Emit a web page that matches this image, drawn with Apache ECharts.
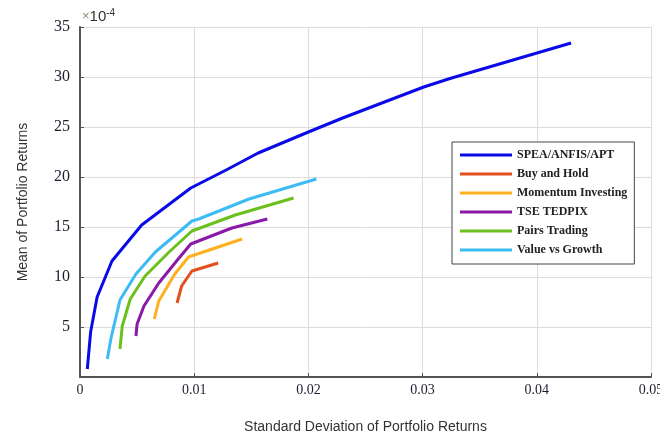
<!DOCTYPE html>
<html>
<head>
<meta charset="utf-8">
<script src="https://cdn.jsdelivr.net/npm/echarts@6/dist/echarts.min.js"></script>
<style>html,body{margin:0;padding:0;background:#fff}#chart{width:660px;height:441px}</style>
</head>
<body>
<div id="chart"></div>
<script>
// Efficient frontiers: [standard deviation, mean return (x1e-4)]
const speaAnfisApt = [[0.00064,0.8],[0.00093,4.5],[0.0015,8.0],[0.0028,11.6],[0.0054,15.2],[0.0097,18.9],[0.0128,20.7],[0.0156,22.4],[0.0200,24.5],[0.0230,25.9],[0.0301,29.0],[0.0324,29.85],[0.0430,33.4]];
const buyAndHold = [[0.0085,7.4],[0.0089,9.1],[0.0098,10.6],[0.0121,11.4]];
const momentumInvesting = [[0.0065,5.8],[0.0069,7.6],[0.0083,10.3],[0.0095,12.0],[0.0142,13.8]];
const tseTedpix = [[0.0049,4.1],[0.0050,5.3],[0.0056,7.1],[0.0069,9.4],[0.0086,11.8],[0.0097,13.3],[0.0133,14.9],[0.0164,15.8]];
const pairsTrading = [[0.0035,2.8],[0.0037,5.1],[0.0044,7.8],[0.0057,10.1],[0.0078,12.5],[0.0098,14.6],[0.0136,16.2],[0.0187,17.9]];
const valueVsGrowth = [[0.0024,1.8],[0.0027,3.8],[0.0035,7.7],[0.0049,10.3],[0.0066,12.5],[0.0098,15.6],[0.0104,15.8],[0.0148,17.8],[0.0207,19.8]];

const seriesNames = ['SPEA/ANFIS/APT','Buy and Hold','Momentum Investing','TSE TEDPIX','Pairs Trading','Value vs Growth'];
const seriesData = [speaAnfisApt, buyAndHold, momentumInvesting, tseTedpix, pairsTrading, valueVsGrowth];
const seriesColors = ['#0a0ae8','#e2501e','#ffb020','#8a18a8','#6cc01c','#3cbcf2'];

const chart = echarts.init(document.getElementById('chart'));
chart.setOption({
  animation: false,
  backgroundColor: '#fff',
  grid: { left: 80, right: 9, top: 27, bottom: 64, outerBoundsMode: 'none' },
  xAxis: {
    type: 'value', min: 0, max: 0.05, interval: 0.01,
    name: 'Standard Deviation of Portfolio Returns',
    nameLocation: 'middle', nameGap: 43,
    nameTextStyle: { fontFamily: 'Liberation Sans', fontSize: 14, color: '#333' },
    axisLine: { show: true, lineStyle: { color: '#555', width: 2 } },
    axisTick: { show: true, inside: true, length: 4, lineStyle: { color: '#555' } },
    axisLabel: { fontFamily: 'Liberation Serif', fontSize: 14, color: '#1e1e30', margin: 6,
      formatter: v => v === 0 ? '0' : v.toFixed(2) },
    splitLine: { show: true, lineStyle: { color: '#dcdcdc', width: 1 } }
  },
  yAxis: {
    type: 'value', min: 0, max: 35, interval: 5,
    name: 'Mean of Portfolio Returns',
    nameLocation: 'middle', nameGap: 50,
    nameTextStyle: { fontFamily: 'Liberation Sans', fontSize: 14, color: '#333' },
    axisLine: { show: true, lineStyle: { color: '#555', width: 2 } },
    axisTick: { show: true, inside: true, length: 4, lineStyle: { color: '#555' } },
    axisLabel: { fontFamily: 'Liberation Serif', fontSize: 16, color: '#1e1e30', margin: 10, showMinLabel: false },
    splitLine: { show: true, lineStyle: { color: '#dcdcdc', width: 1 } }
  },
  legend: {
    orient: 'vertical', left: 452, top: 142,
    data: seriesNames,
    icon: 'rect', itemWidth: 52, itemHeight: 3, itemGap: 5,
    backgroundColor: '#fff', borderColor: '#444', borderWidth: 1,
    padding: [6, 7, 7, 8],
    textStyle: { fontFamily: 'Liberation Serif', fontSize: 12, lineHeight: 14, color: '#222', fontWeight: 'bold' }
  },
  graphic: [{
    type: 'text', left: 82, top: 8,
    style: {
      text: '{x|×}{b|10}{s|-4}',
      rich: {
        x: { fontFamily: 'Liberation Sans', fontSize: 13, fill: '#8a8a6a' },
        b: { fontFamily: 'Liberation Sans', fontSize: 15, fill: '#333' },
        s: { fontFamily: 'Liberation Sans', fontSize: 10, fill: '#333', verticalAlign: 'top', padding: [0,0,7,0] }
      }
    }
  }],
  series: seriesNames.map((name, i) => ({
    name, type: 'line', data: seriesData[i],
    showSymbol: false, symbol: 'none',
    lineStyle: { color: seriesColors[i], width: 3 },
    itemStyle: { color: seriesColors[i] }
  }))
});
</script>
</body>
</html>
